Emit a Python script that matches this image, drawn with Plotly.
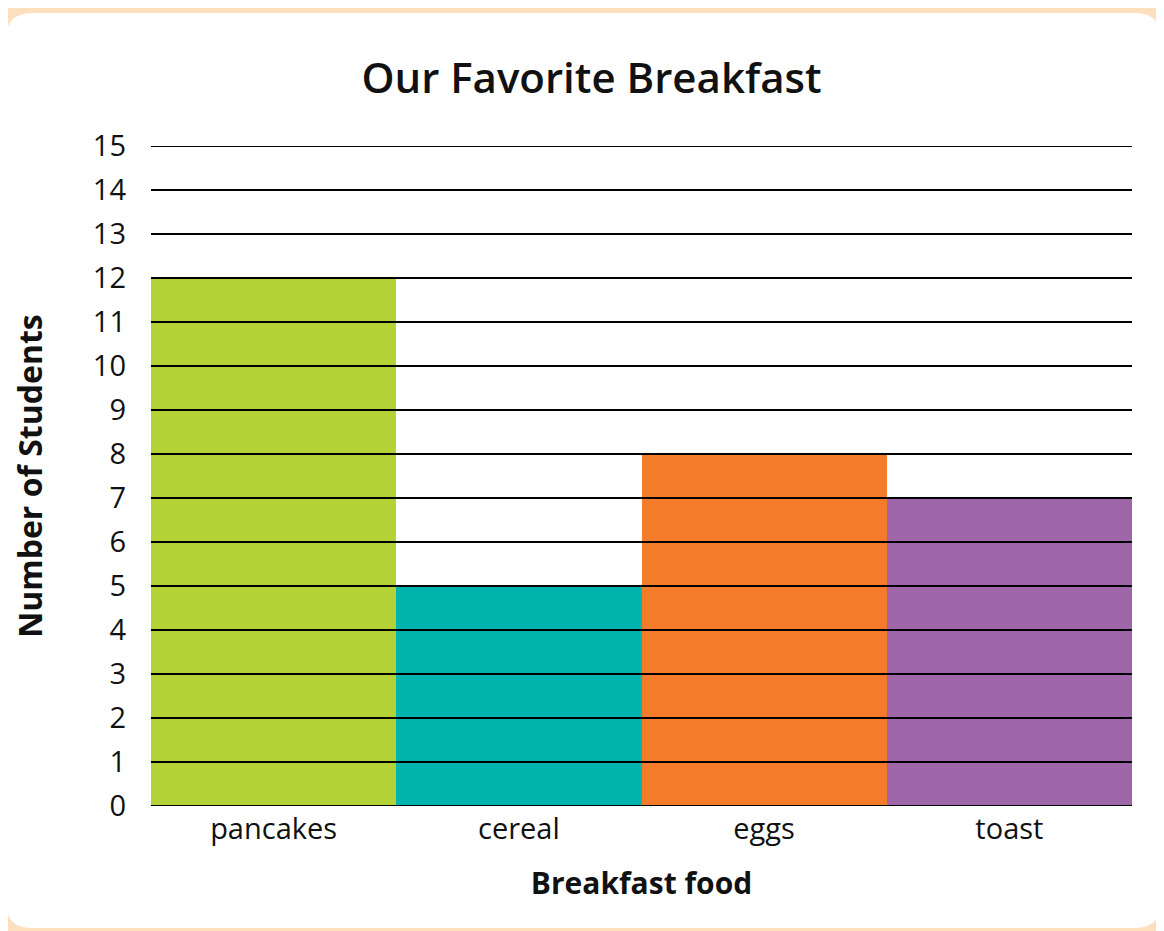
import plotly.graph_objects as go

categories = ["pancakes", "cereal", "eggs", "toast"]
students = [12, 5, 8, 7]
bar_colors = ["#b2d235", "#00b3ad", "#f47b2a", "#9e66a9"]
y_ticks = list(range(0, 16))

W, H = 1164, 931
OFF = 8  # page body margin
L, R, T, B = 151 - OFF, 32 + OFF, 146 - OFF, 125 + OFF
pw, ph = W - L - R, H - T - B

def px(x):
    return (x - OFF - L) / pw

def py(y):
    return (H - B - (y - OFF)) / ph

fig = go.Figure()
fig.add_trace(go.Bar(x=categories, y=students, marker=dict(color=bar_colors, line=dict(width=0)),
                     width=1.0, hoverinfo="x+y"))

shapes = []
x0, y0, x1, y1, r = 6, 13, 1161, 928, 26
path = (f"M {px(x0+r)},{py(y0)} L {px(x1-r)},{py(y0)} "
        f"Q {px(x1)},{py(y0)} {px(x1)},{py(y0+r)} L {px(x1)},{py(y1-r)} "
        f"Q {px(x1)},{py(y1)} {px(x1-r)},{py(y1)} L {px(x0+r)},{py(y1)} "
        f"Q {px(x0)},{py(y1)} {px(x0)},{py(y1-r)} L {px(x0)},{py(y0+r)} "
        f"Q {px(x0)},{py(y0)} {px(x0+r)},{py(y0)} Z")
shapes.append(dict(type="path", xref="paper", yref="paper", path=path,
                   fillcolor="white", line=dict(width=0), layer="below"))
for v in y_ticks:
    shapes.append(dict(type="line", xref="paper", yref="y", x0=0, x1=1, y0=v, y1=v,
                       line=dict(color="black", width=2), layer="above"))

FONT = "Open Sans, sans-serif"
fig.update_layout(
    width=W, height=H,
    margin=dict(l=L, r=R, t=T, b=B),
    paper_bgcolor="#fcdfbc",
    plot_bgcolor="rgba(0,0,0,0)",
    shapes=shapes,
    bargap=0,
    showlegend=False,
    font=dict(family=FONT, color="#111111"),
    title=dict(text="Our Favorite Breakfast", xref="container", x=(591.5 - OFF) / W, xanchor="center",
               y=1 - (78 - OFF) / H, yanchor="middle",
               font=dict(size=42, family=FONT, color="#111111", weight=600)),
    xaxis=dict(showgrid=False, zeroline=False, showline=False, ticks="",
               tickfont=dict(size=29), ticklabelstandoff=3,
               title=dict(text="Breakfast food", font=dict(size=30, weight="bold"), standoff=26)),
    yaxis=dict(range=[0, 15], tickvals=y_ticks, showgrid=False, zeroline=False, showline=False,
               ticks="", tickfont=dict(size=29), ticklabelstandoff=24,
               title=dict(text="Number of Students", font=dict(size=32, weight="bold"), standoff=46)),
)

fig.write_html("out.html")
